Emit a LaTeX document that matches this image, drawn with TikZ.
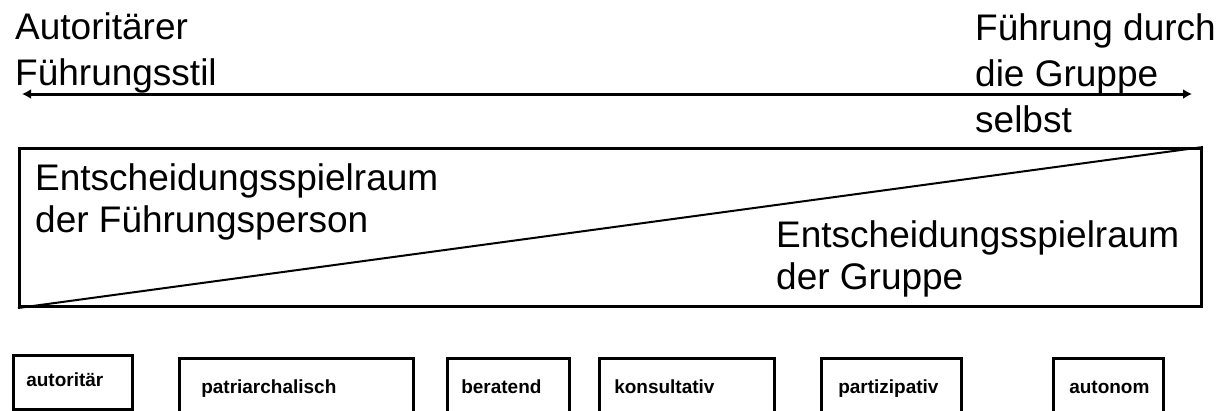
\documentclass[tikz,border=0pt]{standalone}
\usepackage{fontspec}
\setmainfont{Liberation Sans}
\usetikzlibrary{arrows.meta}

\begin{document}
\begin{tikzpicture}[x=1pt,y=-1pt,
  pole_text/.style={inner sep=0pt,anchor=north west,align=left,font=\fontsize{37}{46}\selectfont},
  field_text/.style={inner sep=0pt,anchor=north west,align=left,font=\fontsize{37}{42}\selectfont},
  style_box/.style={draw,line width=2.5pt,inner xsep=14pt,inner ysep=11pt,anchor=north west,align=left,
    font=\bfseries\fontsize{19}{19}\selectfont,text height=24pt,text depth=60pt}]

  \useasboundingbox (0,0) rectangle (1226,410);
  \clip (0,0) rectangle (1226,410);

  % the two poles
  \node[pole_text] (autoritaer_pol) at (15,12) {Autoritärer\\Führungsstil};
  \node[pole_text] (gruppe_pol) at (975,13) {Führung durch\\die Gruppe\\selbst};
  \coordinate (pol_l) at (22,94);
  \coordinate (pol_r) at (1192,94);
  \draw[line width=3pt,{Latex[length=9pt,width=10pt]}-{Latex[length=9pt,width=10pt]}] (pol_l) -- (pol_r);

  % field split by the diagonal
  \node[draw,line width=3pt,minimum width=1182pt,minimum height=158pt,inner sep=0pt,anchor=north west] (feld) at (18,147) {};
  \draw[line width=2pt] (feld.south west) -- (feld.north east);
  \node[field_text] (raum_person) at (35,163) {Entscheidungsspielraum\\der Führungsperson};
  \node[field_text] (raum_gruppe) at (776,220) {Entscheidungsspielraum\\der Gruppe};

  % the six styles
  \node[style_box,text width=93pt,text height=20pt,text depth=12pt,inner xsep=13pt] (s1) at (12,354) {autoritär};
  \node[style_box,text width=190pt,inner xsep=22pt] (s2) at (178,357) {patriarchalisch};
  \node[style_box,text width=94pt] (s3) at (446,357) {beratend};
  \node[style_box,text width=145pt,inner xsep=15pt] (s4) at (598,357) {konsultativ};
  \node[style_box,text width=106pt,inner xsep=17pt] (s5) at (820,357) {partizipativ};
  \node[style_box,text width=78pt,inner xsep=16pt] (s6) at (1052,357) {autonom};

\end{tikzpicture}
\end{document}
